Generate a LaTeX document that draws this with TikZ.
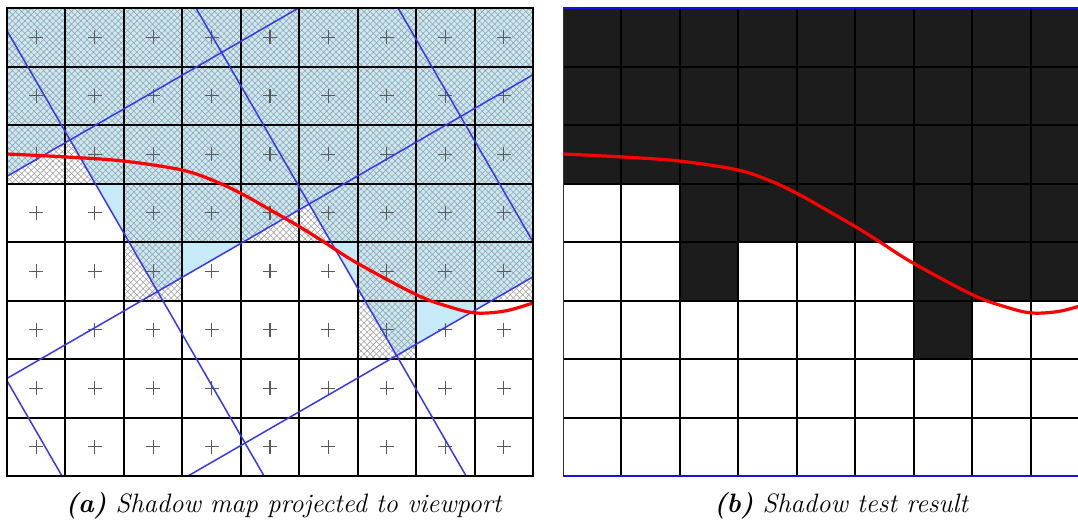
\documentclass[tikz,border=0pt]{standalone}
\usetikzlibrary{patterns.meta}
\definecolor{shadowblue}{RGB}{198,234,248}
\definecolor{darkcell}{RGB}{28,28,28}
\definecolor{rotline}{RGB}{55,55,235}
\definecolor{edgeblue}{RGB}{20,20,220}
\begin{document}
\begin{tikzpicture}[x=0.5pt,y=-0.5pt,
  gridline/.style={black,line width=1pt},
  crossmark/.style={black!65,line width=0.6pt},
  texelline/.style={rotline,line width=0.75pt},
  curve/.style={red,line width=1.6pt},
  hatchfill/.style={pattern={Hatch[angle=45,distance=2.2pt,line width=0.28pt]},pattern color=black!38},
  captiontext/.style={font=\fontsize{13.3}{15}\selectfont\itshape,anchor=base,inner sep=0pt},
  texelgrid/.style={shift={(6,379)},x={(75.775pt,43.75pt)},y={(43.75pt,-75.775pt)}}]
\useasboundingbox (0,0) rectangle (1078,525);
\def\cw{58.444}
\def\ch{58.5}
\def\shadowcells{0/0/9/3,2/3/9/4,2/4/3/5,6/4/9/5,6/5/7/6}
\def\curvepts{(7,154) (67,157) (123,161) (182,170) (217,182) (244,195) (267,208) (300,227) (324,242) (357,263) (417,295) (450,307) (476,313) (505,311) (533,303)}
% ---------------- left panel ----------------
\begin{scope}
  \clip (7,8) rectangle (533,476);
  \begin{scope}[texelgrid]
    \fill[shadowblue] (-3,-1) -- (1,-1) -- (1,0) -- (2,0) -- (2,1) -- (6,1) -- (6,-6) -- (-3,-6) -- cycle;
  \end{scope}
  \foreach \ca/\ra/\cb/\rb in \shadowcells
    \fill[hatchfill] ({7+\ca*\cw},{8+\ra*\ch}) rectangle ({7+\cb*\cw},{8+\rb*\ch});
  \foreach \i in {0,...,9}
    \draw[gridline] ({7+\i*\cw},8) -- ({7+\i*\cw},476);
  \foreach \j in {0,...,8}
    \draw[gridline] (7,{8+\j*\ch}) -- (533,{8+\j*\ch});
  \foreach \i in {0,...,8}
    \foreach \j in {0,...,7}
      \draw[crossmark] ({7+(\i+0.5)*\cw-7},{8+(\j+0.5)*\ch}) -- ++(14,0)
                       ({7+(\i+0.5)*\cw},{8+(\j+0.5)*\ch-7}) -- ++(0,14);
  \begin{scope}[texelgrid]
    \foreach \k in {0,...,3}
      \draw[texelline] (\k,-4) -- (\k,3);
    \foreach \m in {-1,0,1}
      \draw[texelline] (-4,\m) -- (6,\m);
  \end{scope}
  \draw[curve] plot[smooth,tension=0.55] coordinates {\curvepts};
\end{scope}
\draw[gridline] (7,8) rectangle (533,476);
% ---------------- right panel ----------------
\begin{scope}
  \clip (563,7) rectangle (1078,477);
  \foreach \ca/\ra/\cb/\rb in \shadowcells
    \fill[darkcell] ({563+\ca*\cw},{8+\ra*\ch}) rectangle ({563+\cb*\cw},{8+\rb*\ch});
  \foreach \i in {1,...,8}
    \draw[gridline] ({563+\i*\cw},8) -- ({563+\i*\cw},476);
  \foreach \j in {1,...,7}
    \draw[gridline] (563,{8+\j*\ch}) -- (1078,{8+\j*\ch});
  \draw[gridline,black!80] (563,8) -- (563,476);
  \draw[edgeblue,line width=1pt] (563,8) -- (1078,8) (563,476) -- (1078,476);
  \draw[curve,xshift=278pt] plot[smooth,tension=0.55] coordinates {\curvepts};
\end{scope}
% ---------------- captions ----------------
\node[captiontext] (capa) at (283.5,512) {\textbf{(a)} Shadow map projected to viewport};
\node[captiontext] (capb) at (841,512) {\textbf{(b)} Shadow test result};
\end{tikzpicture}
\end{document}
